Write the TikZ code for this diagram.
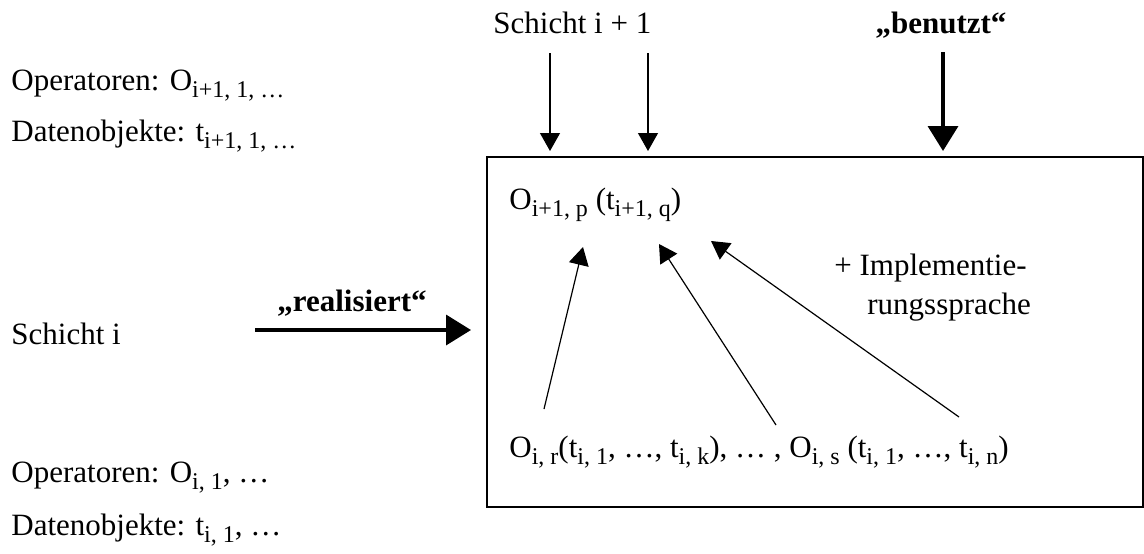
\documentclass[tikz,border=0pt]{standalone}
\usepackage{fontspec}
\setmainfont{Liberation Serif}
\usetikzlibrary{arrows.meta}
\newcommand{\idx}[1]{\raisebox{-3.5pt}{\fontsize{12}{13}\selectfont #1}}

\begin{document}
\begin{tikzpicture}[x=0.5pt, y=-0.5pt,
  txt/.style={inner sep=0pt, anchor=base west, font=\fontsize{15.5}{18}\selectfont},
  bold/.style={txt, anchor=base, font=\fontsize{15.5}{18}\selectfont\bfseries},
  arr/.style={-{Triangle[width=10pt,length=9pt]}, line width=0.6pt},
  bigarr/.style={-{Triangle[width=15pt,length=12.5pt]}, line width=1.8pt},
  layerbox/.style={line width=0.8pt}
]
\useasboundingbox (0,0) rectangle (1144,553);

% upper layer
\node[txt] (upper) at (493,33) {Schicht i + 1};
\node[bold] (uses) at (941,33) {„benutzt“};
\node[txt] (opUp) at (11,90) {Operatoren: O\idx{i+1, 1, …}};
\node[txt] (datUp) at (11,141) {Datenobjekte: t\idx{i+1, 1, …}};

% lower layer
\node[txt] (lower) at (11,344) {Schicht i};
\node[bold] (realizes) at (352,311) {„realisiert“};
\node[txt] (opLow) at (11,482) {Operatoren: O\idx{i, 1}, …};
\node[txt] (datLow) at (11,535) {Datenobjekte: t\idx{i, 1}, …};

% the box
\coordinate (boxNW) at (487,157);
\coordinate (boxSE) at (1143,507);
\draw[layerbox] (boxNW) rectangle (boxSE);
\node[txt] (target) at (509,209) {O\idx{i+1, p} (t\idx{i+1, q})};
\node[txt] (impl1) at (834,275) {+ Implementie-};
\node[txt] (impl2) at (867,314) {rungssprache};
\node[txt] (source) at (509,457) {O\idx{i, r}(t\idx{i, 1}, …, t\idx{i, k}), … , O\idx{i, s} (t\idx{i, 1}, …, t\idx{i, n})};

% arrow end points
\coordinate (in1a) at (550,53);  \coordinate (in1b) at (550,151);
\coordinate (in2a) at (648,53);  \coordinate (in2b) at (648,151);
\coordinate (usA) at (943,52);   \coordinate (usB) at (943,151);
\coordinate (reA) at (255,330);  \coordinate (reB) at (471,330);
\coordinate (m1a) at (544,409);  \coordinate (m1b) at (583,247);
\coordinate (m2a) at (776,425);  \coordinate (m2b) at (659,244);
\coordinate (m3a) at (959,417);  \coordinate (m3b) at (711,241);

\foreach \i/\j in {in1a/in1b,in2a/in2b,m1a/m1b,m2a/m2b,m3a/m3b}
  \draw[arr] (\i) -- (\j);
\foreach \i/\j in {usA/usB,reA/reB}
  \draw[bigarr] (\i) -- (\j);
\end{tikzpicture}
\end{document}
